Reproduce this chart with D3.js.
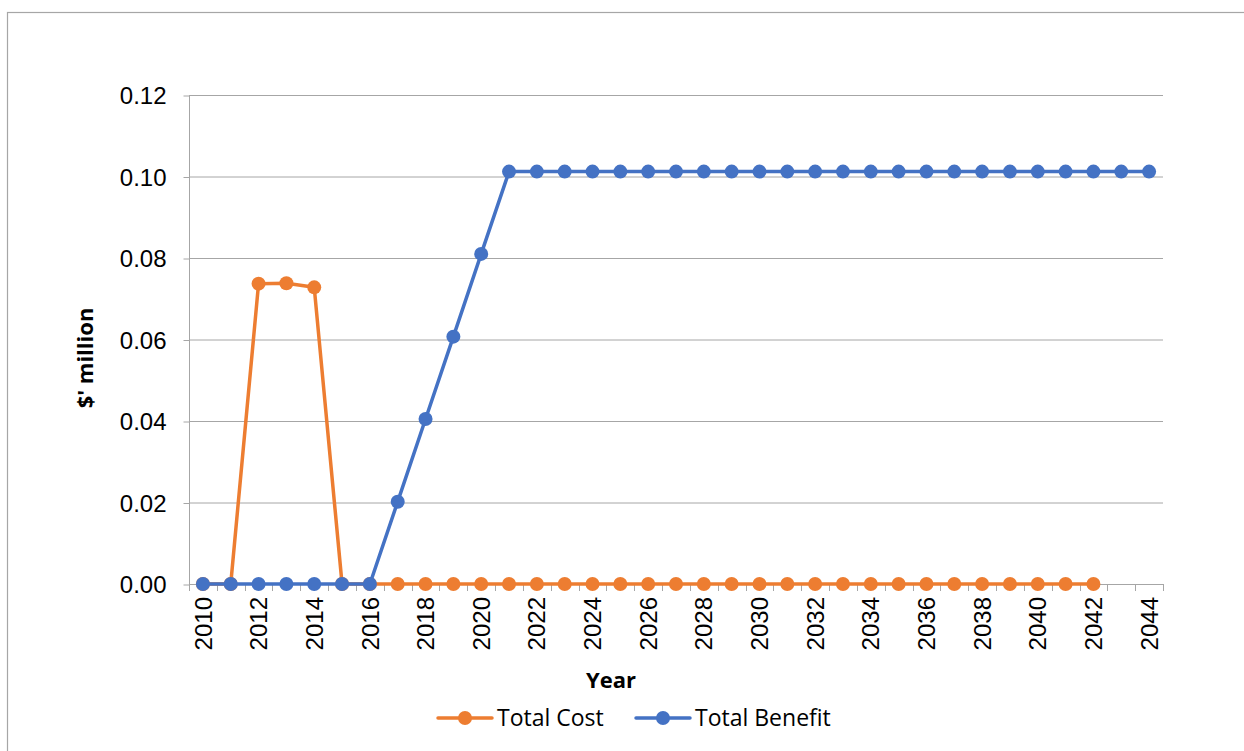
<!DOCTYPE html>
<html>
<head>
<meta charset="utf-8">
<script src="https://cdn.jsdelivr.net/npm/d3@7"></script>
<style>
  body { margin: 0; background: #fff; }
  svg { display: block; }
  text { font-family: "Liberation Sans", Arial, sans-serif; fill: #000; }
  .calibri { font-family: "Open Sans", "Noto Sans", sans-serif; }
</style>
</head>
<body>
<div id="chart"></div>
<script>
// 数据
const years = d3.range(2010, 2045);
const yTicks = [0, 0.02, 0.04, 0.06, 0.08, 0.10, 0.12];
const totalCost = [0, 0, 0.0737, 0.0738, 0.0728, 0, 0, 0, 0, 0, 0, 0, 0, 0, 0, 0, 0,
  0, 0, 0, 0, 0, 0, 0, 0, 0, 0, 0, 0, 0, 0, 0, 0];   // 2010-2042
const totalBenefit = [0, 0, 0, 0, 0, 0, 0, 0.0202, 0.0405, 0.0607, 0.081,
  0.1012, 0.1012, 0.1012, 0.1012, 0.1012, 0.1012, 0.1012, 0.1012, 0.1012, 0.1012,
  0.1012, 0.1012, 0.1012, 0.1012, 0.1012, 0.1012, 0.1012, 0.1012, 0.1012, 0.1012,
  0.1012, 0.1012, 0.1012, 0.1012];                   // 2010-2044
const seriesNames = ['Total Cost', 'Total Benefit'];
const colors = ['#ED7D31', '#4472C4'];

const W = 1244, H = 751;
const plot = { left: 189, right: 1163, top: 95, bottom: 584 };

const svg = d3.select('#chart').append('svg')
  .attr('width', W).attr('height', H);

// 外框（只露出上边和左边）
svg.append('rect')
  .attr('x', 7.5).attr('y', 12.5)
  .attr('width', W + 20).attr('height', H + 20)
  .style('fill', 'none').style('stroke', '#a6a6a6').style('stroke-width', 1.2);

const x = d3.scaleBand().domain(years).range([plot.left, plot.right]);
const y = d3.scaleLinear().domain([0, 0.12]).range([plot.bottom, plot.top]);

// 网格线
svg.append('g').selectAll('line').data(yTicks.slice(1)).join('line')
  .attr('x1', plot.left).attr('x2', plot.right)
  .attr('y1', d => y(d) + 0.5).attr('y2', d => y(d) + 0.5)
  .style('stroke', '#a6a6a6').style('stroke-width', 1);

// Y轴
const yAxis = svg.append('g')
  .attr('transform', `translate(${plot.left + 0.5},0)`)
  .call(d3.axisLeft(y).tickValues(yTicks).tickFormat(d3.format('.2f')).tickSize(6).tickPadding(17));
yAxis.select('.domain').attr('d', `M-0,${plot.top}V${plot.bottom}`).style('stroke', '#a6a6a6');
yAxis.selectAll('.tick line').style('stroke', '#a6a6a6');
yAxis.selectAll('.tick line').attr('transform', 'translate(0,0.5)');
yAxis.selectAll('.tick text').style('font-size', '24px').attr('dy', '0.36em')
  .style('font-family', '"Liberation Sans", Arial, sans-serif');

// X轴
const xAxisG = svg.append('g');
xAxisG.append('line')
  .attr('x1', plot.left).attr('x2', plot.right)
  .attr('y1', plot.bottom + 0.5).attr('y2', plot.bottom + 0.5)
  .style('stroke', '#a6a6a6');
const boundaries = years.map(d => x(d)).concat([plot.right]);
xAxisG.selectAll('line.tick').data(boundaries).join('line')
  .attr('class', 'tick')
  .attr('x1', d => Math.round(d) + 0.5).attr('x2', d => Math.round(d) + 0.5)
  .attr('y1', plot.bottom).attr('y2', plot.bottom + 7)
  .style('stroke', '#a6a6a6');
xAxisG.selectAll('text').data(years.filter((d, i) => i % 2 === 0)).join('text')
  .attr('transform', d => `translate(${x(d) + x.bandwidth() / 2},${plot.bottom + 13}) rotate(-90)`)
  .attr('text-anchor', 'end')
  .attr('dy', '0.36em')
  .style('font-size', '24px')
  .text(d => d);

// 坐标轴标题
svg.append('text')
  .attr('class', 'calibri')
  .attr('transform', `translate(93,358) rotate(-90)`)
  .attr('text-anchor', 'middle')
  .style('font-size', '22px').style('font-weight', 'bold')
  .text("$' million");
svg.append('text')
  .attr('class', 'calibri')
  .attr('x', 611).attr('y', 688)
  .attr('text-anchor', 'middle')
  .style('font-size', '22px').style('font-weight', 'bold')
  .text('Year');

// 折线
const seriesData = [totalCost, totalBenefit];
const line = d3.line()
  .x((d, i) => x(years[i]) + x.bandwidth() / 2)
  .y(d => y(d));
seriesData.forEach((vals, si) => {
  const g = svg.append('g');
  g.append('path')
    .datum(vals)
    .attr('d', line)
    .style('fill', 'none')
    .style('stroke', colors[si])
    .style('stroke-width', 3.5)
    .style('stroke-linejoin', 'round');
  g.selectAll('circle').data(vals).join('circle')
    .attr('cx', (d, i) => x(years[i]) + x.bandwidth() / 2)
    .attr('cy', d => y(d))
    .attr('r', 7)
    .style('fill', colors[si]);
});

// 图例
const legendX = [438, 636];
seriesNames.forEach((name, i) => {
  const g = svg.append('g').attr('transform', `translate(${legendX[i]},718)`);
  g.append('line')
    .attr('x1', 0).attr('x2', 54)
    .style('stroke', colors[i]).style('stroke-width', 3.5).style('stroke-linecap', 'round');
  g.append('circle').attr('cx', 27).attr('r', 7).style('fill', colors[i]);
  g.append('text')
    .attr('class', 'calibri')
    .attr('x', 59).attr('dy', '0.35em')
    .style('font-size', '23px')
    .text(name);
});
</script>
</body>
</html>
